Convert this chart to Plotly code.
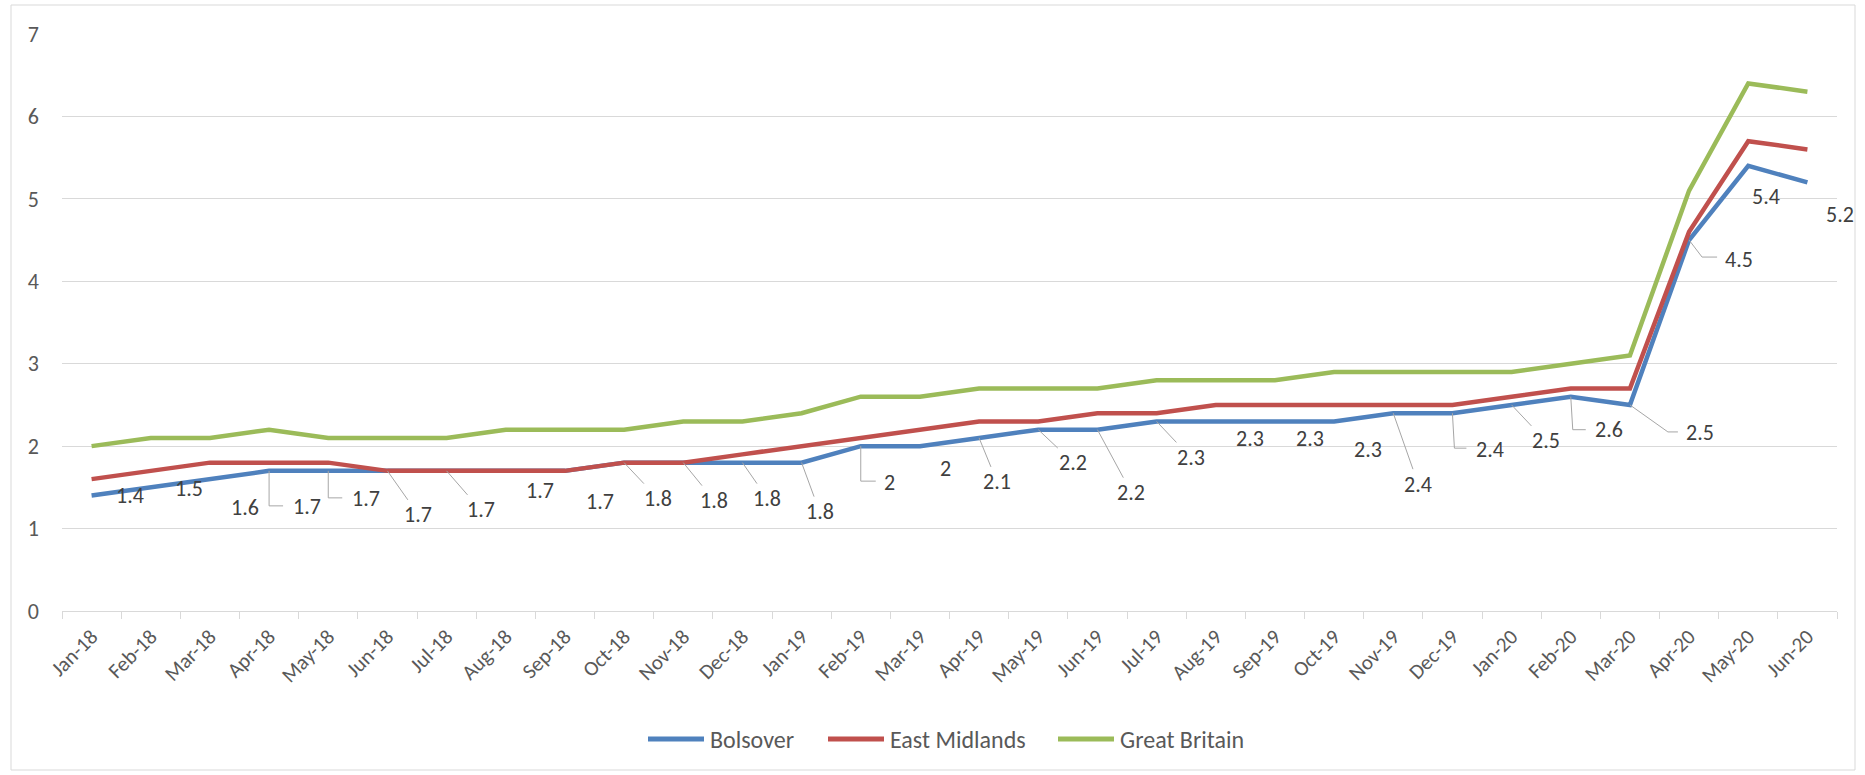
import plotly.graph_objects as go

# ---------------- data ----------------
months = ["Jan-18", "Feb-18", "Mar-18", "Apr-18", "May-18", "Jun-18", "Jul-18", "Aug-18",
          "Sep-18", "Oct-18", "Nov-18", "Dec-18", "Jan-19", "Feb-19", "Mar-19", "Apr-19",
          "May-19", "Jun-19", "Jul-19", "Aug-19", "Sep-19", "Oct-19", "Nov-19", "Dec-19",
          "Jan-20", "Feb-20", "Mar-20", "Apr-20", "May-20", "Jun-20"]

bolsover = [1.4, 1.5, 1.6, 1.7, 1.7, 1.7, 1.7, 1.7, 1.7, 1.8, 1.8, 1.8, 1.8, 2.0, 2.0, 2.1,
            2.2, 2.2, 2.3, 2.3, 2.3, 2.3, 2.4, 2.4, 2.5, 2.6, 2.5, 4.5, 5.4, 5.2]
east_midlands = [1.6, 1.7, 1.8, 1.8, 1.8, 1.7, 1.7, 1.7, 1.7, 1.8, 1.8, 1.9, 2.0, 2.1, 2.2, 2.3,
                 2.3, 2.4, 2.4, 2.5, 2.5, 2.5, 2.5, 2.5, 2.6, 2.7, 2.7, 4.6, 5.7, 5.6]
great_britain = [2.0, 2.1, 2.1, 2.2, 2.1, 2.1, 2.1, 2.2, 2.2, 2.2, 2.3, 2.3, 2.4, 2.6, 2.6, 2.7,
                 2.7, 2.7, 2.8, 2.8, 2.8, 2.9, 2.9, 2.9, 2.9, 3.0, 3.1, 5.1, 6.4, 6.3]

y_ticks = [0, 1, 2, 3, 4, 5, 6, 7]
series_names = ["Bolsover", "East Midlands", "Great Britain"]

# ---------------- styles ----------------
colors = ["#4F81BD", "#C0504D", "#9BBB59"]
FONT = "Calibri, Carlito, Lato, sans-serif"
W, H = 1865, 775
ML, MR, MT, MB = 62, 28, 34, 164
PW, PH = W - ML - MR, H - MT - MB
LEADER = "#A6A6A6"

# data-label offsets in pixels (text centre relative to its point)
label_dx = [38, 38, 35, 38, 38, 31, 34, 34, 35, 34, 31, 25, 18, 29, 26, 18, 35, 34, 34, 34,
            35, 34, 25, 38, 34, 38, 70, 50, 18, 33]
label_dy = [0, 1, 28, 36, 28, 44, 39, 20, 31, 36, 38, 36, 49, 36, 22, 44, 33, 63, 36, 17,
            17, 28, 71, 36, 36, 33, 28, 19, 31, 32]
# leader style: "" none, "d" straight diagonal, otherwise an SVG path in pixels
# relative to the point (x right, y up)
label_leader = ["", "", "", "M0,0V-35H14", "M0,0V-27H14", "d", "d", "", "", "d",
                "d", "d", "d", "M0,0V-35H15", "", "d", "d", "d", "d", "",
                "", "", "d", "M0,0L2,-35H14", "d", "M0,0L2,-33H15", "M0,0L38,-27H48",
                "M0,0L13,-17H28", "", ""]


def px_to_paper(px, py):
    return (px - ML) / PW, (H - MB - py) / PH


fig = go.Figure()
for name, vals, col in zip(series_names, [bolsover, east_midlands, great_britain], colors):
    fig.add_trace(go.Scatter(x=months, y=vals, mode="lines", name=name,
                             line=dict(color=col, width=4.5), showlegend=False,
                             hoverinfo="x+y+name"))

LBL_FONT = dict(family=FONT, size=22, color="#404040")
annotations = []
shapes = []
for m, v, dx, dy, lead in zip(months, bolsover, label_dx, label_dy, label_leader):
    txt = f"{v:g}"
    if lead == "d":
        annotations.append(dict(x=m, y=v, xref="x", yref="y", text=txt, showarrow=True,
                                ax=dx, ay=dy, axref="pixel", ayref="pixel",
                                arrowhead=0, arrowwidth=1, arrowcolor=LEADER,
                                standoff=0, font=LBL_FONT))
    else:
        annotations.append(dict(x=m, y=v, xref="x", yref="y", text=txt, showarrow=False,
                                xshift=dx, yshift=-dy, font=LBL_FONT))
        if lead:
            shapes.append(dict(type="path", xref="x", yref="y", xsizemode="pixel",
                               ysizemode="pixel", xanchor=m, yanchor=v, path=lead,
                               line=dict(color=LEADER, width=1), layer="above"))

# custom legend (long line samples like the original)
legend_items = [(648, 704, 708), (828, 884, 888), (1058, 1114, 1118)]
leg_y = 739
for (x0, x1, tx), name, col in zip(legend_items, series_names, colors):
    a0, b0 = px_to_paper(x0, leg_y)
    a1, _ = px_to_paper(x1, leg_y)
    shapes.append(dict(type="line", xref="paper", yref="paper", x0=a0, x1=a1, y0=b0, y1=b0,
                       line=dict(color=col, width=5)))
    tx_p, _ = px_to_paper(tx, leg_y)
    annotations.append(dict(x=tx_p, y=b0, xref="paper", yref="paper", text=name,
                            showarrow=False, xanchor="left", yanchor="middle",
                            font=dict(family=FONT, size=24, color="#595959")))

# outer chart border
bx0, by1 = px_to_paper(11, 5)
bx1, by0 = px_to_paper(1855, 770)
shapes.append(dict(type="rect", xref="paper", yref="paper", x0=bx0, x1=bx1, y0=by0, y1=by1,
                   line=dict(color="#D9D9D9", width=1), layer="below"))

fig.update_layout(
    width=W, height=H, autosize=False,
    margin=dict(l=ML, r=MR, t=MT, b=MB),
    paper_bgcolor="white", plot_bgcolor="white",
    font=dict(family=FONT, color="#595959"),
    annotations=annotations, shapes=shapes,
    showlegend=False,
)
fig.update_xaxes(type="category", categoryorder="array", categoryarray=months,
                 tickangle=-45, tickfont=dict(size=21, color="#595959", family=FONT),
                 showgrid=False, showline=True, linecolor="#D9D9D9", linewidth=1,
                 ticks="outside", tickson="boundaries", ticklen=7, tickcolor="#D9D9D9",
                 tickwidth=1, zeroline=False, range=[-0.5, len(months) - 0.5],
                 ticklabelstandoff=4)
fig.update_yaxes(range=[0, 7], tickvals=y_ticks, ticktext=[str(t) for t in y_ticks],
                 tickfont=dict(size=22, color="#595959", family=FONT),
                 showgrid=True, gridcolor="#D9D9D9", gridwidth=1, zeroline=False,
                 showline=False, ticks="", ticklabelstandoff=22)

fig.write_html("out.html")
